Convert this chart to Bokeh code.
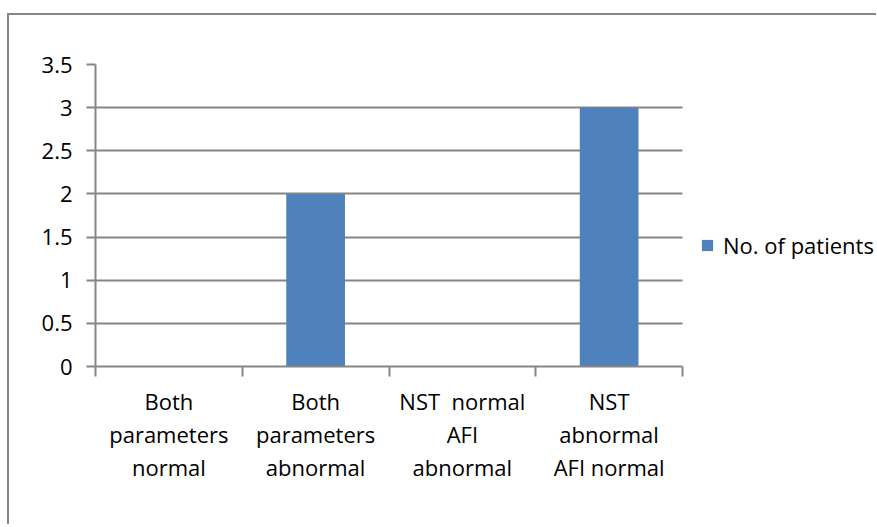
from bokeh.plotting import figure
from bokeh.models import FixedTicker, Legend, LegendItem, Range1d, ColumnDataSource
from bokeh.embed import file_html
from bokeh.resources import INLINE

# Outcome groups (x axis) and number of patients in each
categories = [
    "Both\nparameters\nnormal",
    "Both\nparameters\nabnormal",
    "NST \u00a0normal\nAFI\nabnormal",
    "NST\nabnormal\nAFI normal",
]
patients = [0, 2, 0, 3]
series_name = "No. of patients"

y_ticks = [0, 0.5, 1, 1.5, 2, 2.5, 3, 3.5]
y_tick_labels = ["0", "0.5", "1", "1.5", "2", "2.5", "3", "3.5"]

FONT = "Open Sans"
FONT_SIZE = "22px"
GREY = "#868686"
BAR_BLUE = "#4f81bd"

n = len(categories)
# each category occupies one unit of the numeric x range; the frame runs on
# to the right edge so the legend can sit inside it, beside the bars
centers = [i + 0.5 for i in range(n)]
source = ColumnDataSource(dict(x=centers, top=patients))

p = figure(
    width=869, height=511,
    x_range=Range1d(0, n * 783 / 587), y_range=Range1d(0, 3.5),
    output_backend="svg", toolbar_location=None,
    min_border_left=86, min_border_top=49,
    min_border_right=0, min_border_bottom=160,
    outline_line_color=None,
    margin=(13, 0, 0, 7),
    styles={"border-top": f"2px solid {GREY}", "border-left": f"2px solid {GREY}"},
)

bars = p.vbar(x="x", top="top", width=0.4, bottom=0, source=source,
              fill_color=BAR_BLUE, line_color=None)

# x axis: labels centred on categories, tick marks on category boundaries
xa = p.xaxis[0]
xa.bounds = (0, n)
xa.ticker = FixedTicker(ticks=centers, minor_ticks=list(range(n + 1)))
xa.major_label_overrides = {c: lab for c, lab in zip(centers, categories)}
xa.major_tick_line_color = None
xa.minor_tick_line_color = GREY
xa.minor_tick_line_width = 2
xa.minor_tick_in = 0
xa.minor_tick_out = 10
xa.axis_line_color = GREY
xa.axis_line_width = 2
xa.major_label_text_font = FONT
xa.major_label_text_font_size = FONT_SIZE
xa.major_label_text_color = "black"
xa.major_label_text_line_height = 1.1
xa.major_label_standoff = 9
xa.major_label_orientation = "horizontal"

ya = p.yaxis[0]
ya.ticker = FixedTicker(ticks=y_ticks, minor_ticks=[])
ya.major_label_overrides = {t: lab for t, lab in zip(y_ticks, y_tick_labels)}
ya.major_tick_line_color = GREY
ya.major_tick_line_width = 2
ya.major_tick_in = 0
ya.major_tick_out = 9
ya.axis_line_color = GREY
ya.axis_line_width = 2
ya.major_label_text_font = FONT
ya.major_label_text_font_size = FONT_SIZE
ya.major_label_text_color = "black"
ya.major_label_standoff = 14

p.xgrid.grid_line_color = None
p.ygrid.grid_line_color = GREY
p.ygrid.grid_line_width = 2
p.ygrid.cross_bounds = (0, n)

legend = Legend(
    items=[LegendItem(label=series_name, renderers=[bars])],
    location=(605, 106),
    border_line_color=None, background_fill_alpha=0,
    padding=0, margin=0, spacing=0,
    glyph_width=14, glyph_height=14, label_standoff=9,
    label_text_font=FONT, label_text_font_size=FONT_SIZE,
    label_text_color="black",
)
p.add_layout(legend, "center")

open("out.html", "w").write(file_html(p, INLINE))
